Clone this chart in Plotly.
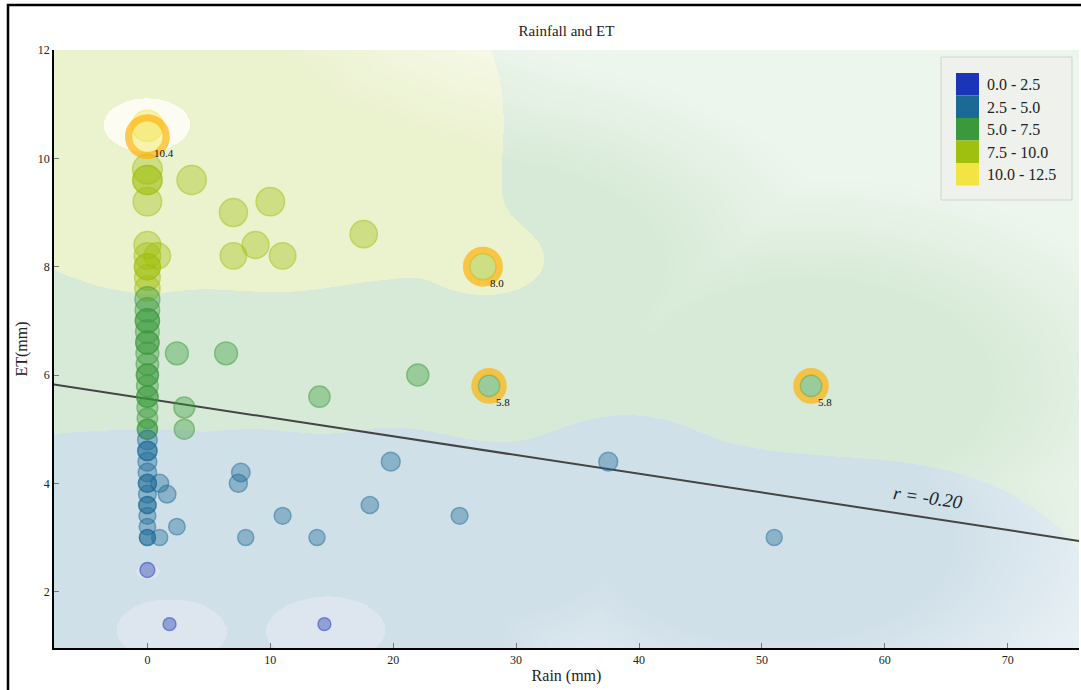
import numpy as np
import plotly.graph_objects as go

# ---------------- data ----------------
rain = [0, 0, 0, 0, 0, 0, 0, 0, 0, 0, 0, 0, 0, 0, 0, 0, 0, 0, 0, 0, 0, 0, 0,
        0, 0, 0, 0, 0, 0, 0, 0, 0, 0, 0, 0, 0, 0, 0, 0, 0, 0, 0, 0, 0, 0,
        0.8, 1.0, 1.6, 2.4, 1.0, 1.8,
        3.6, 7.0, 10.0, 7.0, 8.8, 11.0, 17.6, 27.3,
        2.4, 6.4, 3.0, 3.0, 14.0, 22.0, 27.8, 54.0,
        7.6, 7.4, 11.0, 8.0, 13.8, 14.4, 19.8, 18.1, 25.4, 37.5, 51.0]
et = [10.6, 10.4, 9.8, 9.6, 9.6, 9.2, 8.4, 8.2, 8.0, 8.0, 7.8, 7.6, 7.4, 7.2, 7.0,
      7.0, 6.8, 6.6, 6.6, 6.4, 6.2, 6.0, 6.0, 5.8, 5.6, 5.6, 5.4, 5.2, 5.0, 5.0,
      4.8, 4.6, 4.6, 4.4, 4.2, 4.0, 4.0, 3.8, 3.6, 3.6, 3.4, 3.2, 3.0, 3.0, 2.4,
      8.2, 4.0, 3.8, 3.2, 3.0, 1.4,
      9.6, 9.0, 9.2, 8.2, 8.4, 8.2, 8.6, 8.0,
      6.4, 6.4, 5.4, 5.0, 5.6, 6.0, 5.8, 5.8,
      4.2, 4.0, 3.4, 3.0, 3.0, 1.4, 4.4, 3.6, 3.4, 4.4, 3.0]

hl_rain = [0.0, 27.3, 27.8, 54.0]
hl_et = [10.4, 8.0, 5.8, 5.8]

bin_edges = [0.0, 2.5, 5.0, 7.5, 10.0, 12.5]
bin_labels = ["0.0 - 2.5", "2.5 - 5.0", "5.0 - 7.5", "7.5 - 10.0", "10.0 - 12.5"]
bin_colors = ["#1a35b8", "#1b6a96", "#3b993b", "#a0c00f", "#f3e444"]
bg_colors = ["#5b86b0", "#1b6a96", "#3b993b", "#a0c00f", "#f6f1c8"]

reg_intercept = 5.56
reg_slope = -0.0346
r_value = -0.20
r_label_x = 63.5

x_ticks = [0, 10, 20, 30, 40, 50, 60, 70]
y_ticks = [2, 4, 6, 8, 10, 12]
x_range = [-7.6, 75.8]
y_range = [0.96, 12.0]

title_text = "Rainfall and ET"
x_title = "Rain (mm)"
y_title = "ET(mm)"

# ---------------- helpers ----------------
SERIF = "Liberation Serif, Times New Roman, serif"
rain_a = np.array(rain, float)
et_a = np.array(et, float)


def rgba(hex_color, a):
    h = hex_color.lstrip("#")
    r, g, b = int(h[0:2], 16), int(h[2:4], 16), int(h[4:6], 16)
    return f"rgba({r},{g},{b},{a})"


def bin_index(v):
    idx = np.searchsorted(bin_edges, v, side="right") - 1
    return int(min(max(idx, 0), len(bin_colors) - 1))


pt_bins = [bin_index(v) for v in et]
pt_fill = [rgba(bin_colors[b], 0.55) for b in pt_bins]
pt_line = [rgba(bin_colors[b], 0.75) for b in pt_bins]
pt_size = [10 + 2 * v for v in et]

# interpolated background surface (inverse distance weighting of the points)
gx = np.linspace(x_range[0], x_range[1], 170)
gy = np.linspace(y_range[0], y_range[1], 110)
GX, GY = np.meshgrid(gx, gy)
sx = x_range[1] - x_range[0]
sy = y_range[1] - y_range[0]
d2 = ((GX[..., None] - rain_a) / sx) ** 2 + ((GY[..., None] - et_a) / sy) ** 2
w = 1.0 / np.power(d2 + 1e-6, 1.3)
Z = (w * et_a).sum(-1) / w.sum(-1)
# fade where the nearest observation is far away
Dmin = np.sqrt(d2.min(-1))
fade = np.clip((Dmin - 0.17) / 0.18, 0, 1)

zmin, zmax = bin_edges[0], bin_edges[-1]
cscale = []
for i, c in enumerate(bg_colors):
    lo = (bin_edges[i] - zmin) / (zmax - zmin)
    hi = (bin_edges[i + 1] - zmin) / (zmax - zmin)
    cscale += [[lo, c], [hi, c]]

fig = go.Figure()
fig.add_trace(go.Heatmap(x=gx, y=gy, z=Z, zmin=zmin, zmax=zmax, colorscale=cscale,
                         zsmooth="best", opacity=0.2, showscale=False, hoverinfo="skip"))
fig.add_trace(go.Heatmap(x=gx, y=gy, z=fade, zmin=0, zmax=1,
                         colorscale=[[0, "rgba(255,255,255,0)"], [1, "rgba(255,255,255,0.55)"]],
                         zsmooth="best", showscale=False, hoverinfo="skip"))

# regression line
reg_x = np.array(x_range)
fig.add_trace(go.Scatter(x=reg_x, y=reg_intercept + reg_slope * reg_x, mode="lines",
                         line=dict(color="#444444", width=2), hoverinfo="skip",
                         showlegend=False))

# points
fig.add_trace(go.Scatter(x=rain, y=et, mode="markers",
                         marker=dict(size=pt_size, color=pt_fill,
                                     line=dict(color=pt_line, width=1.5)),
                         showlegend=False))

# highlight rings
hl_size = [10 + 2 * v + 7 for v in hl_et]
fig.add_trace(go.Scatter(x=hl_rain, y=hl_et, mode="markers",
                         marker=dict(size=hl_size, color="rgba(0,0,0,0)",
                                     line=dict(color="rgba(255,176,0,0.95)", width=7)),
                         hoverinfo="skip", showlegend=False))

annotations = []
for hx, hy in zip(hl_rain, hl_et):
    annotations.append(dict(x=hx, y=hy, xref="x", yref="y", text=f"{hy:.1f}",
                            showarrow=False, xanchor="left", yanchor="top",
                            xshift=5, yshift=-8,
                            font=dict(family=SERIF, size=11, color="#111")))

annotations.append(dict(x=r_label_x, y=reg_intercept + reg_slope * r_label_x,
                        xref="x", yref="y", text=f"<i>r = {r_value:.2f}</i>",
                        showarrow=False, yshift=20, textangle=8,
                        font=dict(family=SERIF, size=19, color="#222")))

# manual legend (pixel layout converted to paper coords)
L, R, T, B = 54, 1079, 50, 648
PW, PH = R - L, B - T


def px(xp):
    return (xp - L) / PW


def py(yp):
    return (B - yp) / PH


shapes = []
shapes.append(dict(type="rect", xref="paper", yref="paper",
                   x0=px(941), x1=px(1072), y0=py(200), y1=py(57),
                   fillcolor="rgba(238,240,236,0.92)", line=dict(color="#cfd3cf", width=1),
                   layer="above"))
for i, (lab, col) in enumerate(zip(bin_labels, bin_colors)):
    top = 73 + 22.5 * i
    shapes.append(dict(type="rect", xref="paper", yref="paper",
                       x0=px(956), x1=px(979), y0=py(top + 22.5), y1=py(top),
                       fillcolor=col, line=dict(width=0), layer="above"))
    annotations.append(dict(x=px(985), y=py(top + 11.5), xref="paper", yref="paper",
                            text=lab, showarrow=False, xanchor="left", yanchor="middle",
                            font=dict(family=SERIF, size=16, color="#222")))

# outer frame
shapes.append(dict(type="rect", xref="paper", yref="paper",
                   x0=px(8), x1=px(1095), y0=py(705), y1=py(5),
                   line=dict(color="black", width=2.5), fillcolor="rgba(0,0,0,0)",
                   layer="above"))

fig.update_layout(
    width=1081, height=690,
    margin=dict(l=L, r=1081 - R, t=T, b=690 - B),
    paper_bgcolor="white", plot_bgcolor="white",
    title=dict(text=title_text, x=0.5, xref="paper", y=1 - 31 / 690, yref="container",
               xanchor="center", yanchor="middle",
               font=dict(family=SERIF, size=15, color="#222")),
    xaxis=dict(range=x_range, tickvals=x_ticks, ticks="inside", ticklen=5,
               tickcolor="#777", showline=True, linecolor="black", linewidth=1.5,
               showgrid=False, zeroline=False,
               tickfont=dict(family=SERIF, size=12, color="#222"),
               title=dict(text=x_title, standoff=4,
                          font=dict(family=SERIF, size=16, color="#222"))),
    yaxis=dict(range=y_range, tickvals=y_ticks, ticks="inside", ticklen=5,
               tickcolor="#777", showline=True, linecolor="black", linewidth=1.5,
               showgrid=False, zeroline=False,
               tickfont=dict(family=SERIF, size=12, color="#222"),
               title=dict(text=y_title, standoff=6,
                          font=dict(family=SERIF, size=16, color="#222"))),
    annotations=annotations,
    shapes=shapes,
    showlegend=False,
)

fig.write_html("out.html")
